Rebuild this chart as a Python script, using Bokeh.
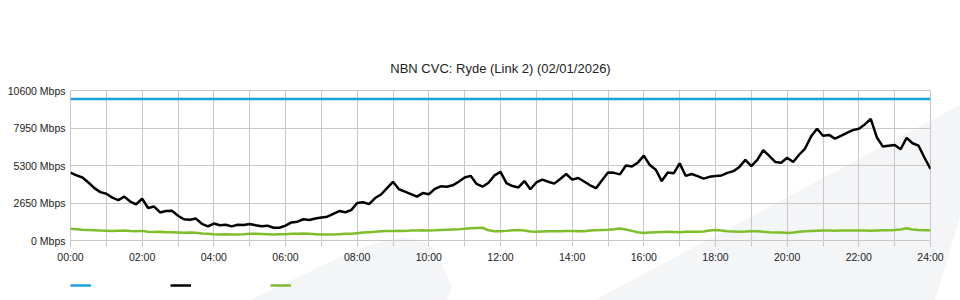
import numpy as np
from urllib.parse import quote
from bokeh.plotting import figure
from bokeh.layouts import column
from bokeh.models import FixedTicker, Legend, LegendItem, PrintfTickFormatter
from bokeh.embed import file_html
from bokeh.resources import INLINE

# ---------------- data ----------------
title_text = "NBN CVC: Ryde (Link 2) (02/01/2026)"

# samples every 10 minutes, 00:00 .. 24:00 (145 samples)
sample_minutes = 10

capacity_hours = [0, 24]
capacity_mbps = [10000, 10000]

traffic_mbps = [
    4800, 4600, 4450, 4100, 3700, 3420, 3300, 3030, 2850, 3100,
    2750, 2560, 2950, 2300, 2400, 1980, 2090, 2100, 1750, 1500,
    1460, 1550, 1180, 1000, 1200, 1080, 1110, 1000, 1110, 1100,
    1170, 1080, 1000, 1050, 900, 900, 1050, 1280, 1330, 1500,
    1450, 1560, 1620, 1680, 1880, 2080, 2000, 2150, 2650, 2700,
    2570, 3000, 3250, 3700, 4150, 3620, 3450, 3280, 3100, 3350,
    3270, 3650, 3830, 3800, 3900, 4150, 4450, 4570, 4000, 3800,
    4080, 4600, 4850, 4050, 3850, 3750, 4200, 3620, 4100, 4300,
    4150, 4020, 4350, 4700, 4300, 4420, 4170, 3900, 3700, 4250,
    4800, 4780, 4670, 5300, 5230, 5500, 6000, 5330, 5000, 4200,
    4800, 4750, 5450, 4570, 4700, 4550, 4370, 4500, 4550, 4600,
    4780, 4900, 5200, 5700, 5250, 5700, 6380, 5980, 5550, 5500,
    5850, 5550, 6060, 6500, 7350, 7900, 7400, 7460, 7200, 7400,
    7600, 7800, 7900, 8200, 8600, 7300, 6650, 6700, 6750, 6450,
    7250, 6870, 6700, 5850, 5050,
]

upload_mbps = [
    830, 800, 760, 740, 720, 700, 690, 680, 690, 700,
    670, 650, 680, 620, 600, 610, 590, 580, 560, 540,
    560, 540, 500, 470, 440, 430, 440, 420, 430, 440,
    470, 470, 460, 440, 420, 440, 450, 470, 480, 490,
    470, 450, 430, 420, 430, 450, 470, 480, 520, 560,
    590, 620, 650, 670, 680, 690, 680, 700, 710, 720,
    710, 720, 740, 760, 780, 800, 830, 860, 880, 900,
    720, 660, 650, 680, 720, 740, 700, 640, 620, 640,
    660, 660, 660, 670, 680, 660, 660, 700, 720, 740,
    760, 800, 850, 780, 680, 580, 530, 560, 590, 600,
    610, 600, 590, 610, 620, 610, 640, 700, 750, 700,
    650, 640, 620, 630, 650, 660, 620, 590, 570, 560,
    530, 560, 620, 660, 680, 690, 700, 700, 690, 700,
    700, 710, 700, 700, 690, 710, 720, 720, 740, 780,
    860, 780, 740, 720, 720,
]

x_tick_hours = [0, 2, 4, 6, 8, 10, 12, 14, 16, 18, 20, 22, 24]
x_tick_labels = ["00:00", "02:00", "04:00", "06:00", "08:00", "10:00", "12:00",
                 "14:00", "16:00", "18:00", "20:00", "22:00", "24:00"]
x_minor_hours = list(range(0, 25))
y_tick_values = [0, 2650, 5300, 7950, 10600]
y_tick_labels = ["0 Mbps", "2650 Mbps", "5300 Mbps", "7950 Mbps", "10600 Mbps"]

assert len(traffic_mbps) == 145, len(traffic_mbps)
assert len(upload_mbps) == 145, len(upload_mbps)
hours = np.arange(len(traffic_mbps)) * sample_minutes / 60.0

# ---------------- style ----------------
FONT = "Liberation Sans"
GRID = "#c8c8c8"
BLUE = "#1a9fe0"
BLACK = "#000000"
GREEN = "#7dbe2a"

p = figure(width=960, height=265, output_backend="svg", toolbar_location=None,
           x_range=(0, 24), y_range=(0, 10600),
           min_border_left=70, min_border_right=30, min_border_top=90, min_border_bottom=25)
p.background_fill_alpha = 0
p.border_fill_alpha = 0
p.outline_line_color = GRID

p.title.text = title_text
p.title.align = "center"
p.title.text_font = FONT
p.title.text_font_size = "13px"
p.title.text_font_style = "normal"
p.title.text_color = "#222222"
p.title.standoff = 30

# axes
xa = p.xaxis[0]
xa.ticker = FixedTicker(ticks=x_tick_hours, minor_ticks=x_minor_hours)
xa.major_label_overrides = {h: l for h, l in zip(x_tick_hours, x_tick_labels)}
xa.axis_line_color = GRID
xa.major_tick_line_color = GRID
xa.minor_tick_line_color = GRID
xa.major_tick_in = 0
xa.major_tick_out = 6
xa.minor_tick_in = 0
xa.minor_tick_out = 6
xa.major_label_standoff = 4
xa.axis_label_standoff = 0
xa.major_label_text_font = FONT
xa.major_label_text_font_size = "10.5px"
xa.major_label_text_color = "#222222"

ya = p.yaxis[0]
ya.ticker = FixedTicker(ticks=y_tick_values)
ya.formatter = PrintfTickFormatter(format="%d Mbps")
ya.major_label_overrides = {v: l for v, l in zip(y_tick_values, y_tick_labels)}
ya.axis_line_color = None
ya.major_tick_line_color = None
ya.minor_tick_line_color = None
ya.major_tick_out = 0
ya.minor_tick_out = 0
ya.major_label_standoff = 5
ya.axis_label_standoff = 0
ya.major_label_text_font = FONT
ya.major_label_text_font_size = "10.5px"
ya.major_label_text_color = "#222222"

p.xgrid.ticker = FixedTicker(ticks=x_tick_hours, minor_ticks=x_minor_hours)
p.xgrid.grid_line_color = GRID
p.xgrid.minor_grid_line_color = GRID
p.ygrid.grid_line_color = GRID

# series
p.line(capacity_hours, capacity_mbps, line_color=BLUE, line_width=2.5)
p.line(hours, upload_mbps, line_color=GREEN, line_width=2.5)
p.line(hours, traffic_mbps, line_color=BLACK, line_width=2.5)

# legend strip (keys only, no labels) under the chart; its series lie outside its y-range
lf = figure(width=960, height=35, output_backend="svg", toolbar_location=None,
            x_axis_location=None, y_axis_location=None,
            x_range=(0, 24), y_range=(-2, -1),
            min_border_left=0, min_border_right=0, min_border_top=0, min_border_bottom=0)
lf.background_fill_alpha = 0
lf.border_fill_alpha = 0
lf.outline_line_color = None
lf.grid.grid_line_color = None
k_cap = lf.line(capacity_hours, capacity_mbps, line_color=BLUE, line_width=2.5)
k_dn = lf.line(hours, traffic_mbps, line_color=BLACK, line_width=2.5)
k_up = lf.line(hours, upload_mbps, line_color=GREEN, line_width=2.5)
legend = Legend(items=[LegendItem(label=" ", renderers=[k_cap]),
                       LegendItem(label=" ", renderers=[k_dn]),
                       LegendItem(label=" ", renderers=[k_up])],
                orientation="horizontal", location=(0, 12),
                glyph_width=21, glyph_height=6, label_width=79, label_height=6,
                label_standoff=0, spacing=0, padding=0, margin=0,
                border_line_color=None, background_fill_alpha=0)
lf.add_layout(legend, "center")

layout = column(p, lf, spacing=0)

# watermark background (decorative)
svg = ("<svg xmlns='http://www.w3.org/2000/svg' width='960' height='300'>"
       "<polygon points='595,300 960,105 960,217 935,300' fill='#f4f5f7'/>"
       "<path d='M250,300 L330,262 Q380,238 405,238 Q428,240 436,252 L452,287 L447,300 Z' fill='#f4f5f7'/>"
       "</svg>")
layout.styles = {"background-image": 'url("data:image/svg+xml;utf8,' + quote(svg) + '")',
                 "background-repeat": "no-repeat",
                 "background-size": "960px 300px"}

open("out.html", "w").write(file_html(layout, INLINE))
